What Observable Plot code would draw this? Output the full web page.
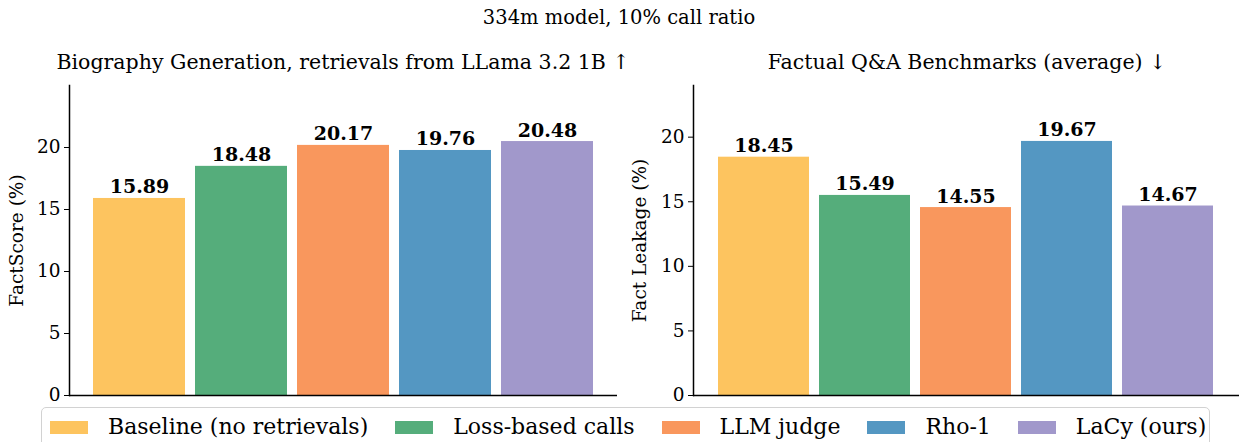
<!DOCTYPE html>
<html>
<head>
<meta charset="utf-8">
<script src="https://cdn.jsdelivr.net/npm/d3@7"></script>
<script src="https://cdn.jsdelivr.net/npm/@observablehq/plot@0.6"></script>
<style>
  html, body { margin: 0; padding: 0; background: #fff; }
  #root { position: relative; width: 1239px; height: 442px; overflow: hidden; font-family: "DejaVu Serif", serif; color: #000; }
  .ttl { position: absolute; white-space: nowrap; transform: translateX(-50%); line-height: 1; }
  .panel { position: absolute; top: 0; }
  #legend { position: absolute; left: 41px; top: 407px; width: 1169px; height: 50px; border: 1px solid #d2d2d2; border-radius: 5px; background: #fff; box-sizing: border-box; display: flex; align-items: flex-start; padding-left: 8px; padding-top: 7px; }
  .item { display: flex; align-items: center; margin-right: 27px; font-size: 22px; line-height: 24px; white-space: nowrap; }
  .sw { width: 38px; height: 13px; margin-right: 20px; }
</style>
</head>
<body>
<div id="root">
  <div class="ttl" id="suptitle" style="left:619px; top:8px; font-size:19.5px;"></div>
  <div class="ttl" id="t1" style="left:343px; top:52px; font-size:20.5px;"></div>
  <div class="ttl" id="t2" style="left:967px; top:52px; font-size:20.5px;"></div>
  <div class="panel" id="p1" style="left:0px;"></div>
  <div class="panel" id="p2" style="left:620px;"></div>
  <div id="legend"></div>
</div>
<script>
const supTitle = "334m model, 10% call ratio";
const panelTitles = ["Biography Generation, retrievals from LLama 3.2 1B ↑", "Factual Q&A Benchmarks (average) ↓"];
const yLabels = ["FactScore (%)", "Fact Leakage (%)"];
const methods = ["Baseline (no retrievals)", "Loss-based calls", "LLM judge", "Rho-1", "LaCy (ours)"];
const colors = ["#fdc45f", "#55ad7b", "#f9975d", "#5497c2", "#a198cb"];
const factScore = [15.89, 18.48, 20.17, 19.76, 20.48];
const factLeakage = [18.45, 15.49, 14.55, 19.67, 14.67];
const yTicks = [0, 5, 10, 15, 20];
const yMax = [25, 24];

document.getElementById("suptitle").textContent = supTitle;
document.getElementById("t1").textContent = panelTitles[0];
document.getElementById("t2").textContent = panelTitles[1];

function panel(values, label, ymax, width, marginLeft, marginRight, labelOffset) {
  const rows = methods.map((m, i) => ({method: m, value: values[i]}));
  return Plot.plot({
    width, height: 400,
    marginLeft, marginRight, marginTop: 85, marginBottom: 5,
    style: {fontFamily: "DejaVu Serif", color: "#000", background: "transparent", overflow: "visible"},
    x: {domain: methods, paddingInner: 0.098, paddingOuter: 0.235, axis: null},
    y: {domain: [0, ymax], axis: null},
    color: {domain: methods, range: colors},
    marks: [
      Plot.barY(rows, {x: "method", y: "value", fill: "method"}),
      Plot.text(rows, {x: "method", y: "value", text: d => d.value.toFixed(2), lineAnchor: "bottom", dy: -5, fontWeight: "bold", fontSize: 19, fill: "#000"}),
      Plot.axisY({ticks: yTicks, tickSize: 5, tickPadding: 4, fontSize: 18.5, stroke: "#000", label, labelAnchor: "center", labelOffset, labelArrow: "none"}),
      Plot.ruleY([0], {stroke: "#000", strokeWidth: 1.5}),
      Plot.frame({anchor: "left", stroke: "#000", strokeWidth: 1.5})
    ]
  });
}

document.getElementById("p1").appendChild(panel(factScore, yLabels[0], yMax[0], 620, 69, 3, 60));
document.getElementById("p2").appendChild(panel(factLeakage, yLabels[1], yMax[1], 619, 73, 0, 61));

const legend = document.getElementById("legend");
methods.forEach((m, i) => {
  const it = document.createElement("div");
  it.className = "item";
  const sw = document.createElement("div");
  sw.className = "sw";
  sw.style.background = colors[i];
  const tx = document.createElement("span");
  tx.textContent = m;
  it.appendChild(sw); it.appendChild(tx);
  legend.appendChild(it);
});
</script>
</body>
</html>
